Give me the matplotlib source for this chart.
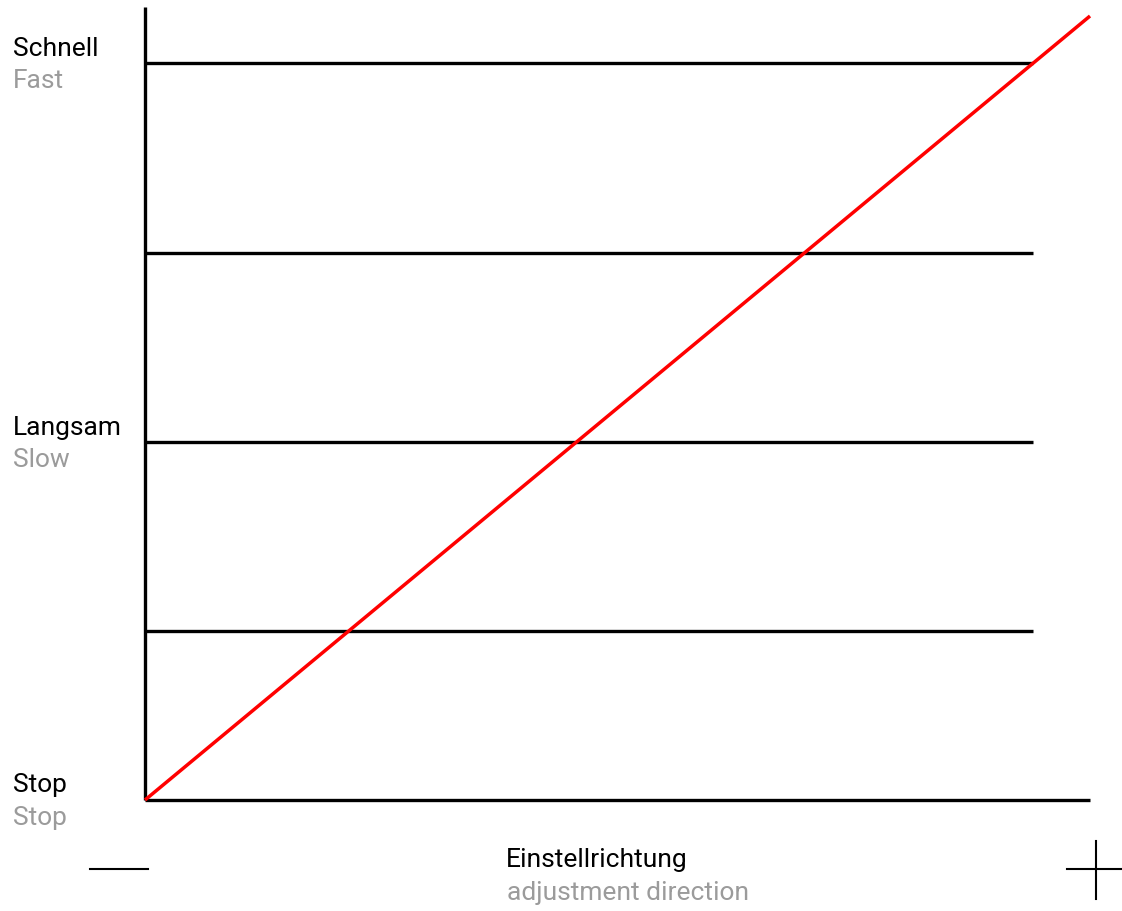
import matplotlib
matplotlib.use("Agg")
import matplotlib.pyplot as plt

plt.rcParams['font.family'] = ['Roboto', 'DejaVu Sans']

# Speed levels (height above "Stop") and the reach of the adjustment range
level_heights = [169, 358, 547, 737]
level_end = 888
axis_x_end = 945
axis_y_end = 793

# Characteristic: speed rises linearly along the adjustment direction
ramp_x = [0, 945]
ramp_y = [0, 784]

# Labels: (level height, German, English)
speed_labels = [(737, "Schnell", "Fast"),
                (358, "Langsam", "Slow"),
                (0, "Stop", "Stop")]
direction_de = "Einstellrichtung"
direction_en = "adjustment direction"

BLACK = "#000000"
GREY = "#9b9b9b"
RED = "#ff0000"

fig = plt.figure(figsize=(11.22, 9.12), dpi=100)
ax = fig.add_axes([0, 0, 1, 1])
ax.set_xlim(-145, 977)
ax.set_ylim(-111, 801)
ax.axis("off")

# Axes
ax.plot([0, 0], [0, axis_y_end], color=BLACK, lw=2.4, solid_capstyle="butt")
ax.plot([0, axis_x_end], [0, 0], color=BLACK, lw=2.4, solid_capstyle="butt")

# Horizontal speed levels
for h in level_heights:
    ax.plot([0, level_end], [h, h], color=BLACK, lw=2.4, solid_capstyle="butt")

# Ramp
ax.plot(ramp_x, ramp_y, color=RED, lw=2.5, solid_capstyle="butt")

# Minus / plus symbols for direction
ax.plot([-55, 3], [-69, -69], color=BLACK, lw=1.5)
ax.plot([922, 977], [-69, -69], color=BLACK, lw=1.5)
ax.plot([951, 951], [-41, -99], color=BLACK, lw=1.5)

fs = 19
for h, de, en in speed_labels:
    ax.text(-132, h + 8.5, de, color=BLACK, fontsize=fs, ha="left", va="baseline")
    ax.text(-132, h - 24, en, color=GREY, fontsize=fs, ha="left", va="baseline")

ax.text(361, -66, direction_de, color=BLACK, fontsize=fs, ha="left", va="baseline")
ax.text(362, -99, direction_en, color=GREY, fontsize=fs, ha="left", va="baseline")

fig.savefig("out.png", dpi=100)
